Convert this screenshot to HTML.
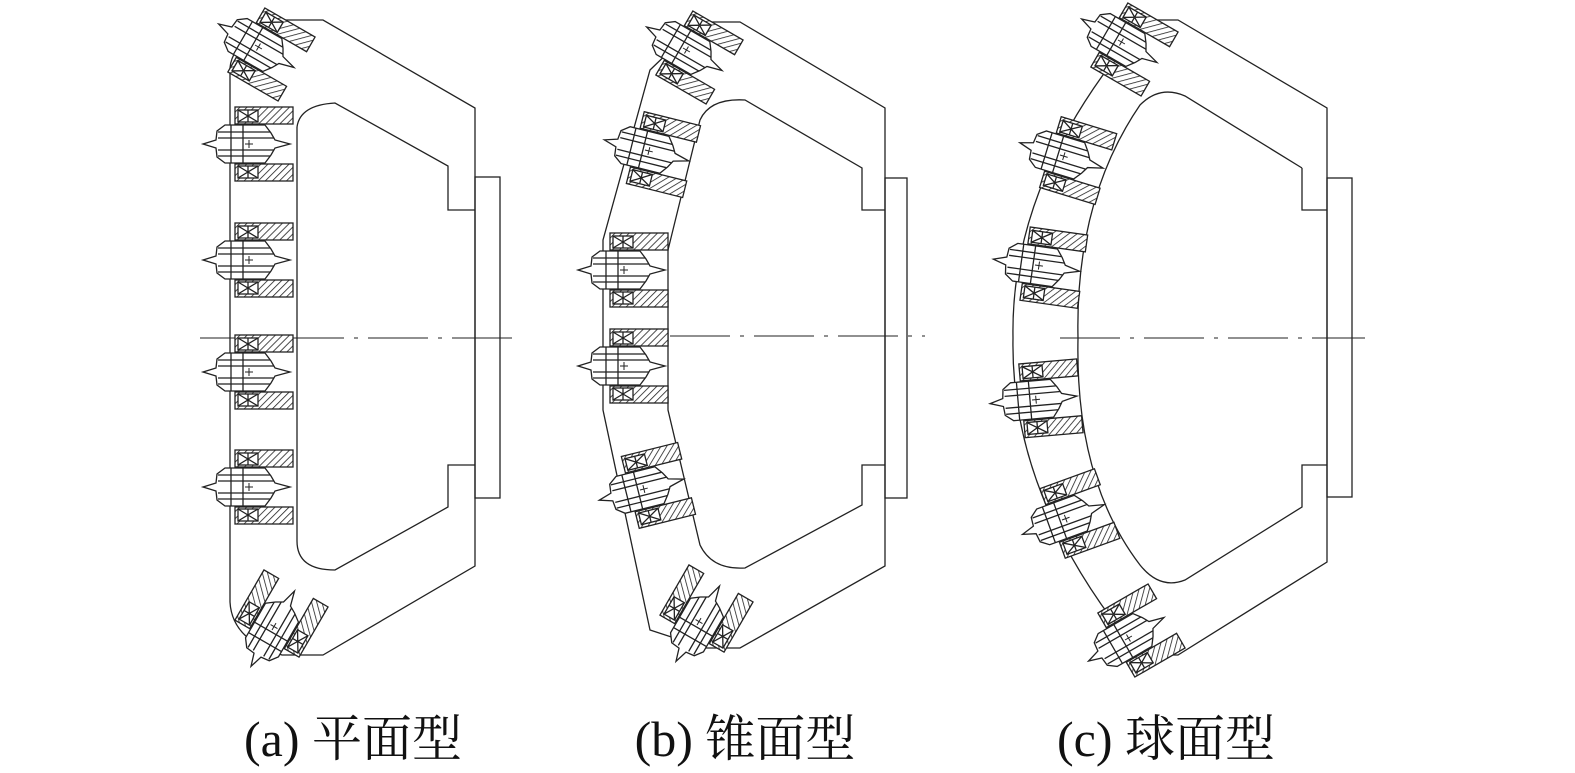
<!DOCTYPE html>
<html><head><meta charset="utf-8"><style>
html,body{margin:0;padding:0;background:#fff;}
svg{display:block;}
text{font-family:"Liberation Serif","Noto Serif CJK SC",serif;}
</style></head><body>
<svg width="1575" height="773" viewBox="0 0 1575 773" xmlns="http://www.w3.org/2000/svg">
<defs>
<pattern id="h" width="5" height="5" patternUnits="userSpaceOnUse" patternTransform="rotate(45)">
<rect width="5" height="5" fill="#fff"/><line x1="0" y1="0" x2="0" y2="5" stroke="#222" stroke-width="1.6"/>
</pattern>
<g id="c" stroke="#222" stroke-width="1.3" fill="none">
<rect x="-10" y="-37" width="58" height="17" fill="url(#h)"/>
<rect x="-10" y="20" width="58" height="17" fill="url(#h)"/>
<rect x="-7" y="-34" width="20" height="12" fill="#fff"/>
<path d="M-7,-34 L13,-22 M13,-34 L-7,-22 M3,-34 V-22"/>
<rect x="-7" y="22" width="20" height="12" fill="#fff"/>
<path d="M-7,22 L13,34 M13,22 L-7,34 M3,22 V34"/>
<path d="M-42,0 L-29,-4 L-28,-13 L-20,-19 L20,-19 L26,-11 L30,-4 L45,0 L30,4 L26,11 L20,19 L-20,19 L-28,13 L-29,4 Z" fill="#fff"/>
<path d="M-27,-12 H25 M-27,-6 H29 M-27,6 H29 M-27,12 H25 M-14,-19 V19 M-2,-19 V19"/>
<path d="M0,0 H8 M4,-4 V4" stroke-width="1"/>
</g>
</defs>
<g stroke="#222" stroke-width="1.3" fill="none">
<path d="M280,20 H323 L475,108 V566 L323,655 H282 Q232,640 230,602 V68 Q232,40 280,20"/>
<path d="M297,127 Q300,105 335,103 L448,166 V210 H475"/>
<path d="M475,465 H448 V507 L335,570 Q297,570 297,541 V127"/>
<rect x="475" y="177" width="25" height="321"/>
<path d="M200,338 H515" stroke-dasharray="60,10,4,10" stroke-width="1"/>
<path d="M700,22 H740 L885,108 V566 L740,648 H705 L650,630 L603,410 V240 L650,70 Z"/>
<path d="M668,250 L700,120 Q710,98 745,100 L862,168 V210 H885"/>
<path d="M885,465 H862 V505 L745,568 Q712,570 700,545 L668,410 V250"/>
<rect x="885" y="178" width="22" height="320"/>
<path d="M670,336 H925" stroke-dasharray="60,10,4,10" stroke-width="1"/>
<path d="M1147,20 H1178 L1327,108 V562 L1178,655 H1140 Q1010,500 1013,338 Q1010,175 1147,20"/>
<path d="M1302,168 L1185,96 Q1160,85 1140,105 Q1075,200 1078,338 Q1075,480 1140,565 Q1160,590 1185,580 L1302,507 V465 H1327"/>
<path d="M1302,168 V210 H1327"/>
<rect x="1327" y="178" width="25" height="319"/>
<path d="M1060,338 H1365" stroke-dasharray="60,10,4,10" stroke-width="1"/>
</g>
<g>
<use href="#c" transform="translate(255,45) rotate(30)"/>
<use href="#c" transform="translate(245,144)"/>
<use href="#c" transform="translate(245,260)"/>
<use href="#c" transform="translate(245,372)"/>
<use href="#c" transform="translate(245,487)"/>
<use href="#c" transform="translate(272,630) rotate(-60)"/>
<use href="#c" transform="translate(683,48) rotate(30)"/>
<use href="#c" transform="translate(645,150) rotate(14)"/>
<use href="#c" transform="translate(620,270)"/>
<use href="#c" transform="translate(620,366)"/>
<use href="#c" transform="translate(640,490) rotate(-14)"/>
<use href="#c" transform="translate(697,625) rotate(-60)"/>
<use href="#c" transform="translate(1118,40) rotate(30)"/>
<use href="#c" transform="translate(1060,155) rotate(17)"/>
<use href="#c" transform="translate(1035,265) rotate(8)"/>
<use href="#c" transform="translate(1032,400) rotate(-5)"/>
<use href="#c" transform="translate(1062,520) rotate(-20)"/>
<use href="#c" transform="translate(1125,640) rotate(-30)"/>
</g>
<text x="353" y="756" font-size="50" text-anchor="middle" fill="#111">(a) 平面型</text>
<text x="745" y="756" font-size="50" text-anchor="middle" fill="#111">(b) 锥面型</text>
<text x="1166" y="756" font-size="50" text-anchor="middle" fill="#111">(c) 球面型</text>
</svg>
</body></html>
